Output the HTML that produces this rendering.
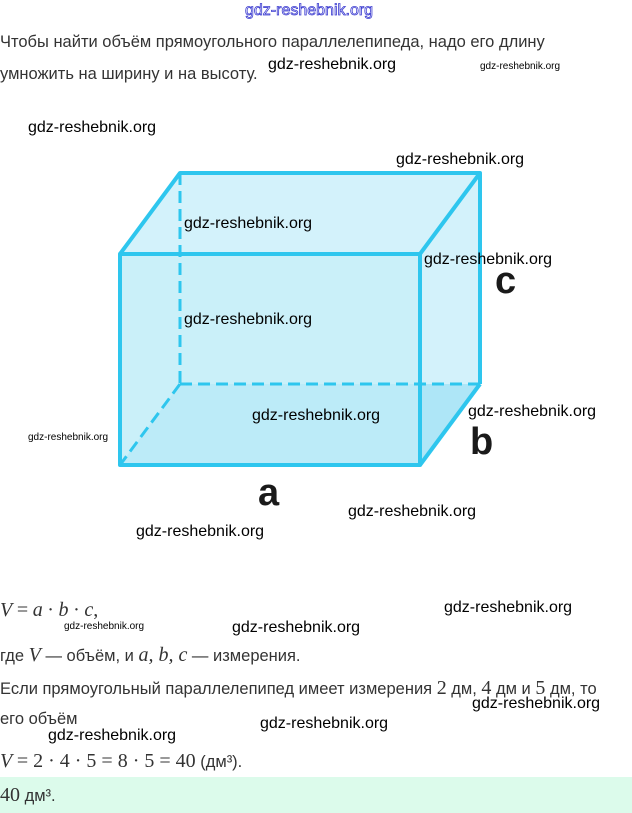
<!DOCTYPE html>
<html><head><meta charset="utf-8"><style>
body{margin:0;width:632px;height:813px;position:relative;background:#fff;overflow:hidden;font-family:"Liberation Sans",sans-serif;}
.t{position:absolute;color:#333;font-size:16.5px;white-space:nowrap;}
.w{position:absolute;color:#000;font-size:16px;white-space:nowrap;line-height:20px;}
.ws{position:absolute;color:#000;font-size:10px;white-space:nowrap;line-height:12px;}
.m{font-family:"Liberation Serif",serif;font-size:20px;}
.mi{font-family:"Liberation Serif",serif;font-style:italic;font-size:20px;}
</style></head><body>
<div class="w" style="left:245px;top:1px;color:#fff;-webkit-text-stroke:0.8px #3b3bd0;">gdz-reshebnik.org</div>
<div class="t" style="left:0;top:33px;">Чтобы найти объём прямоугольного параллелепипеда, надо его длину</div>
<div class="t" style="left:0;top:65px;">умножить на ширину и на высоту.</div>
<div class="w" style="left:268px;top:55px;">gdz-reshebnik.org</div>
<div class="ws" style="left:480px;top:61px;">gdz-reshebnik.org</div>
<div class="w" style="left:28px;top:118px;">gdz-reshebnik.org</div>
<div class="w" style="left:396px;top:150px;">gdz-reshebnik.org</div>

<svg style="position:absolute;left:0;top:0" width="632" height="813">
<polygon points="120,254 180,173 480,173 480,384 420,465 120,465" fill="#d3f2fb"/>
<polygon points="120,465 180,384 480,384 420,465" fill="#aee6f7"/>
<polygon points="120,254 420,254 420,465 120,465" fill="#c5eef9" opacity="0.6"/>
<g stroke="#2ec6ee" stroke-width="4" fill="none" stroke-linejoin="round">
<line x1="180" y1="173" x2="180" y2="384" stroke-dasharray="12,6" stroke-width="3"/>
<line x1="180" y1="384" x2="480" y2="384" stroke-dasharray="12,6" stroke-width="3"/>
<line x1="180" y1="384" x2="120" y2="465" stroke-dasharray="12,6" stroke-width="3"/>
<polyline points="120,254 180,173 480,173 420,254"/>
<line x1="480" y1="173" x2="480" y2="384"/>
<line x1="480" y1="384" x2="420" y2="465"/>
<rect x="120" y="254" width="300" height="211"/>
</g>
<text x="495" y="293" font-family="Liberation Sans" font-weight="bold" font-size="38" fill="#1a1a1a">c</text>
<text x="470" y="454" font-family="Liberation Sans" font-weight="bold" font-size="38" fill="#1a1a1a">b</text>
<text x="258" y="505" font-family="Liberation Sans" font-weight="bold" font-size="38" fill="#1a1a1a">a</text>
</svg>

<div class="w" style="left:184px;top:214px;">gdz-reshebnik.org</div>
<div class="w" style="left:424px;top:250px;">gdz-reshebnik.org</div>
<div class="w" style="left:184px;top:310px;">gdz-reshebnik.org</div>
<div class="w" style="left:252px;top:406px;">gdz-reshebnik.org</div>
<div class="w" style="left:468px;top:402px;">gdz-reshebnik.org</div>
<div class="ws" style="left:28px;top:432px;">gdz-reshebnik.org</div>
<div class="w" style="left:348px;top:502px;">gdz-reshebnik.org</div>
<div class="w" style="left:136px;top:522px;">gdz-reshebnik.org</div>

<div class="t" style="left:0;top:599px;"><span class="mi">V</span> <span class="m">=</span> <span class="mi">a</span> <span class="m">·</span> <span class="mi">b</span> <span class="m">·</span> <span class="mi">c</span><span class="m">,</span></div>
<div class="w" style="left:444px;top:598px;">gdz-reshebnik.org</div>
<div class="ws" style="left:64px;top:621px;">gdz-reshebnik.org</div>
<div class="w" style="left:232px;top:618px;">gdz-reshebnik.org</div>
<div class="t" style="left:0;top:644px;">где <span class="mi">V</span> — объём, и <span class="mi">a, b, c</span> — измерения.</div>
<div class="t" style="left:0;top:677px;">Если прямоугольный параллелепипед имеет измерения <span class="m">2</span> дм, <span class="m">4</span> дм и <span class="m">5</span> дм, то</div>
<div class="w" style="left:472px;top:694px;">gdz-reshebnik.org</div>
<div class="t" style="left:0;top:710px;">его объём</div>
<div class="w" style="left:260px;top:714px;">gdz-reshebnik.org</div>
<div class="w" style="left:48px;top:726px;">gdz-reshebnik.org</div>
<div class="t" style="left:0;top:750px;"><span class="mi">V</span> <span class="m">= 2 · 4 · 5 = 8 · 5 = 40</span> (дм³).</div>
<div style="position:absolute;left:0;top:777px;width:632px;height:36px;background:#dcfbeb;"></div>
<div class="t" style="left:0;top:784px;"><span class="m">40</span> дм³.</div>
</body></html>
